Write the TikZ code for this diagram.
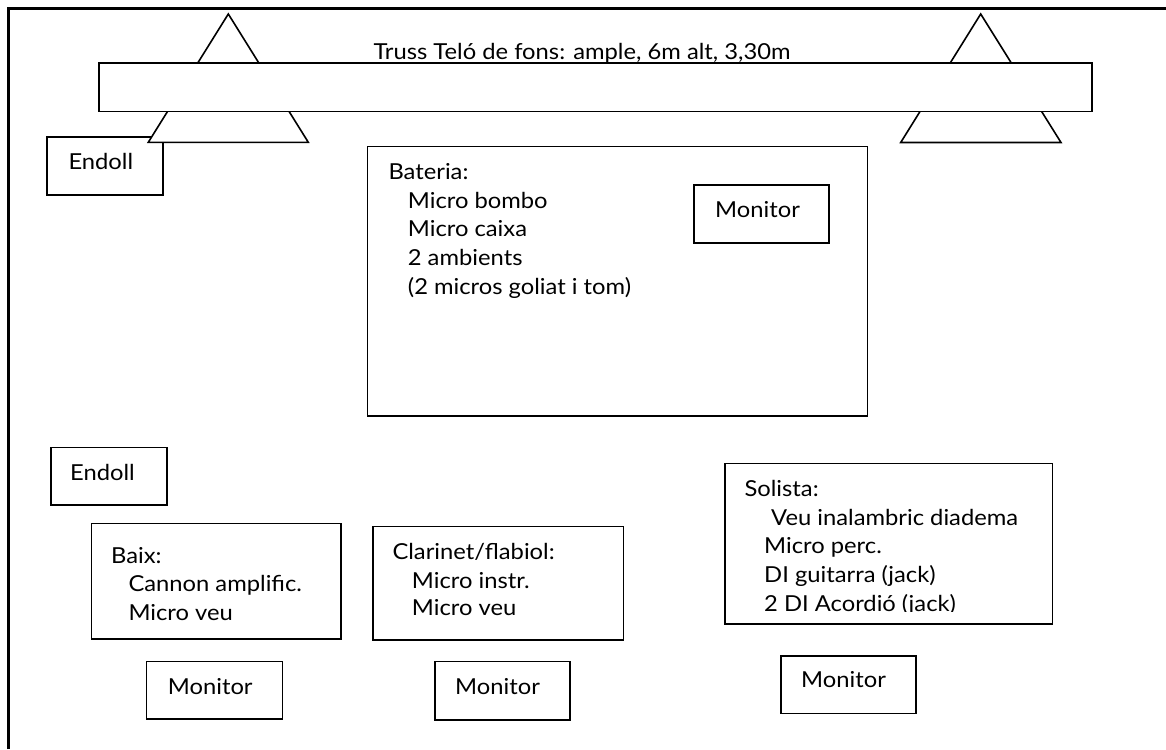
\documentclass[tikz,border=0pt]{standalone}
\usepackage{fontspec}
\setmainfont{Lato}[FakeStretch=1.08]
\begin{document}
\begin{tikzpicture}[x=1pt,y=-1pt,
  box/.style={draw, line width=1.6pt, fill=white, inner sep=0pt, anchor=north west},
  txt/.style={anchor=base west, inner sep=0pt, font=\fontsize{22}{28.5}\selectfont},
  tri/.style={draw, line width=1.6pt, fill=white, line join=miter},
  frame/.style={line width=2.6pt}]
\useasboundingbox (0,0) rectangle (1166,749);
% outer frame (only top and left edges visible)
\coordinate (fbl) at (8.6,749);
\coordinate (ftl) at (8.6,8.3);
\coordinate (ftr) at (1166,8.3);
\draw[frame] (fbl) -- (ftl) -- (ftr);
% Endoll (top)
\node[box, minimum width=116.3pt, minimum height=58pt] (endollA) at (46,136) {};
\node[txt] (endollAt) at (68.3,169.4) {Endoll};
% triangles
\draw[tri] (228.3,14) -- (148.3,142.3) -- (308.3,142.3) -- cycle;
\draw[tri] (980.7,14) -- (900.7,142.5) -- (1061,142.5) -- cycle;
% truss
\node[box, minimum width=992.7pt, minimum height=48.4pt] (truss) at (98.3,62.3) {};
\node[txt] (trusst) at (373.3,59.3) {Truss Teló de fons: ample, 6m alt, 3,30m};
% Bateria
\node[box, minimum width=500pt, minimum height=269.3pt] (bateria) at (366.7,145.7) {};
\node[txt] (bat1) at (388.3,179.3) {Bateria:};
\node[txt] (bat2) at (407.7,208.3) {Micro bombo};
\node[txt] (bat3) at (407.7,236.7) {Micro caixa};
\node[txt] (bat4) at (407.7,265) {2 ambients};
\node[txt] (bat5) at (407.7,294) {(2 micros goliat i tom)};
\node[box, minimum width=135pt, minimum height=58.3pt] (monB) at (693.3,184) {};
\node[txt] (monBt) at (715,217.3) {Monitor};
% Endoll (bottom)
\node[box, minimum width=116pt, minimum height=57.3pt] (endollB) at (50,446.7) {};
\node[txt] (endollBt) at (70,480) {Endoll};
% Baix
\node[box, minimum width=249.3pt, minimum height=115.3pt] (baix) at (90.7,522.7) {};
\node[txt] (baix1) at (111,563.3) {Baix:};
\node[txt] (baix2) at (128.3,591.7) {Cannon amplific.};
\node[txt] (baix3) at (128.3,620.7) {Micro veu};
\node[box, minimum width=136pt, minimum height=57.6pt] (monX) at (145.7,660.7) {};
\node[txt] (monXt) at (167.7,694) {Monitor};
% Clarinet
\node[box, minimum width=250.4pt, minimum height=113.6pt] (clar) at (372.3,525.7) {};
\node[txt] (clar1) at (392.3,559.3) {Clarinet/flabiol:};
\node[txt] (clar2) at (411.7,588.3) {Micro instr.};
\node[txt] (clar3) at (411.7,615.7) {Micro veu};
\node[box, minimum width=135pt, minimum height=58.3pt] (monC) at (434.3,660.7) {};
\node[txt] (monCt) at (455,694) {Monitor};
% Solista
\node[box, minimum width=327.7pt, minimum height=160.3pt] (sol) at (724,462.7) {};
\node[txt] (sol1) at (744.3,496) {Solista:};
\node[txt] (sol2) at (771,525) {Veu inalambric diadema};
\node[txt] (sol3) at (764,553.3) {Micro perc.};
\node[txt] (sol4) at (764,582.3) {DI guitarra (jack)};
\begin{scope}
  \clip (725,463) rectangle (1050,611.8);
  \node[txt] (sol5) at (764,611) {2 DI Acordió (jack)};
\end{scope}
\node[box, minimum width=135.3pt, minimum height=57.7pt] (monS) at (780,655) {};
\node[txt] (monSt) at (801,687.7) {Monitor};
\end{tikzpicture}
\end{document}
